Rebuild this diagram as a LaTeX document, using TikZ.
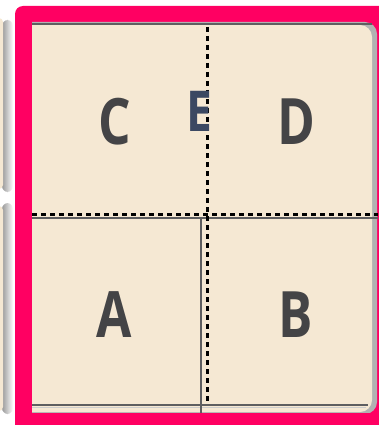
\documentclass[tikz,border=0pt]{standalone}
\usepackage{fontspec}
\setmainfont{Open Sans}
\definecolor{framepink}{HTML}{FF0062}
\definecolor{panelbeige}{HTML}{F5E8D3}
\definecolor{lettergray}{HTML}{444446}
\definecolor{letterslate}{HTML}{3B4862}
\definecolor{rulegray}{HTML}{5E5E60}
\begin{document}
\begin{tikzpicture}[
    x=1pt, y=-1pt,
    letter/.style={
        font=\fontsize{64}{64}\selectfont\bfseries,
        text=lettergray,
        inner sep=0pt
    },
    dotline/.style={
        black,
        line width=3pt,
        dash pattern=on 5pt off 4pt
    },
    rule/.style={
        rulegray,
        line width=1.3pt
    }
]
\useasboundingbox (0,0) rectangle (378,425);
\fill[white] (0,0) rectangle (378,425);

\shade[left color=gray!80, right color=white, rounded corners=6pt] (2,20) rectangle (13,192);
\fill[panelbeige, rounded corners=4pt] (-20,18) rectangle (3,189);
\shade[left color=gray!80, right color=white, rounded corners=6pt] (2,203) rectangle (13,414);
\fill[panelbeige, rounded corners=4pt] (-20,206) rectangle (3,411);

\fill[framepink, rounded corners=8pt] (15,6) rectangle (400,440);

\fill[gray!60] (32,22) [rounded corners=12pt] -- (377,22) -- (377,414) [sharp corners] -- (32,414) -- cycle;
\fill[panelbeige] (32,25) [rounded corners=12pt] -- (372,25) -- (372,412) [sharp corners] -- (32,412) -- cycle;
\fill[framepink] (15,413) rectangle (400,440);
\draw[rule, line width=2pt] (32,24) -- (372,24);
\draw[rule, line width=1.8pt] (32,405) -- (368,405);
\draw[gray!40, line width=1pt] (32,407) -- (366,407);

\draw[rule] (32,218) -- (378,218);
\draw[rule] (201,218) -- (201,413);
\draw[dotline] (32,214.5) -- (378,214.5);
\draw[dotline] (207,27) -- (207,402);

\node[letter] (c) at (115,122) {\scalebox{0.8}[1]{C}};
\node[letter] (d) at (296,122) {\scalebox{0.8}[1]{D}};
\node[letter, text=letterslate] (e) at (199,111) {\scalebox{0.72}[0.88]{E}};
\node[letter] (a) at (114,315) {\scalebox{0.8}[1]{A}};
\node[letter] (b) at (296,315) {\scalebox{0.8}[1]{B}};

\end{tikzpicture}
\end{document}
